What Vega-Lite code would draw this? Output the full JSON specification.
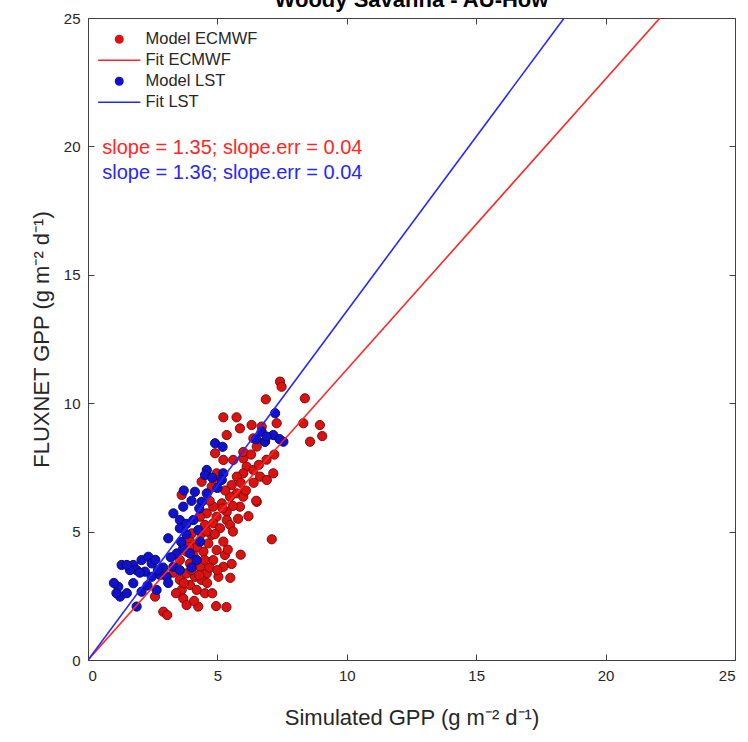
{
  "$schema": "https://vega.github.io/schema/vega-lite/v6.json",
  "autosize": "none",
  "width": 647,
  "height": 642,
  "padding": {"left": 88, "top": 18, "right": 13, "bottom": 82},
  "background": "white",
  "config": {
    "view": {"stroke": "#404040", "strokeWidth": 1},
    "font": "Liberation Sans",
    "axis": {"grid": false, "domainColor": "#404040", "tickColor": "#404040", "labelColor": "#262626", "titleColor": "#262626", "labelFont": "Liberation Sans", "titleFont": "Liberation Sans", "labelFontSize": 15, "titleFontSize": 22, "titleFontWeight": "normal", "tickSize": -6, "labelPadding": 14}
  },
  "resolve": {"axis": {"x": "independent", "y": "independent"}},
  "datasets": {
    "pts": [
      {"series": "Model ECMWF", "x": 7.42, "y": 10.84}, {"series": "Model ECMWF", "x": 7.48, "y": 10.64},
      {"series": "Model ECMWF", "x": 6.87, "y": 10.15}, {"series": "Model ECMWF", "x": 8.38, "y": 10.19},
      {"series": "Model ECMWF", "x": 5.23, "y": 9.45}, {"series": "Model ECMWF", "x": 5.74, "y": 9.45},
      {"series": "Model ECMWF", "x": 5.87, "y": 9.02}, {"series": "Model ECMWF", "x": 6.32, "y": 9.15},
      {"series": "Model ECMWF", "x": 6.71, "y": 9.09}, {"series": "Model ECMWF", "x": 7.29, "y": 9.22},
      {"series": "Model ECMWF", "x": 8.32, "y": 9.22}, {"series": "Model ECMWF", "x": 8.96, "y": 9.15},
      {"series": "Model ECMWF", "x": 9.05, "y": 8.72}, {"series": "Model ECMWF", "x": 8.58, "y": 8.5},
      {"series": "Model ECMWF", "x": 5.36, "y": 8.76}, {"series": "Model ECMWF", "x": 6.39, "y": 8.63},
      {"series": "Model ECMWF", "x": 6.52, "y": 8.31}, {"series": "Model ECMWF", "x": 6.84, "y": 8.5},
      {"series": "Model ECMWF", "x": 4.91, "y": 8.05}, {"series": "Model ECMWF", "x": 5.23, "y": 7.79},
      {"series": "Model ECMWF", "x": 5.61, "y": 7.79}, {"series": "Model ECMWF", "x": 6.0, "y": 7.85},
      {"series": "Model ECMWF", "x": 6.13, "y": 7.53}, {"series": "Model ECMWF", "x": 6.39, "y": 7.4},
      {"series": "Model ECMWF", "x": 6.65, "y": 7.14}, {"series": "Model ECMWF", "x": 7.16, "y": 7.27},
      {"series": "Model ECMWF", "x": 6.91, "y": 7.01}, {"series": "Model ECMWF", "x": 6.0, "y": 7.27},
      {"series": "Model ECMWF", "x": 5.75, "y": 7.14}, {"series": "Model ECMWF", "x": 4.97, "y": 7.27},
      {"series": "Model ECMWF", "x": 4.78, "y": 6.75}, {"series": "Model ECMWF", "x": 4.39, "y": 6.94},
      {"series": "Model ECMWF", "x": 5.55, "y": 6.81}, {"series": "Model ECMWF", "x": 5.75, "y": 6.49},
      {"series": "Model ECMWF", "x": 5.49, "y": 6.36}, {"series": "Model ECMWF", "x": 6.0, "y": 6.36},
      {"series": "Model ECMWF", "x": 5.87, "y": 5.97}, {"series": "Model ECMWF", "x": 6.52, "y": 6.16},
      {"series": "Model ECMWF", "x": 5.17, "y": 6.1}, {"series": "Model ECMWF", "x": 4.84, "y": 5.97},
      {"series": "Model ECMWF", "x": 5.36, "y": 5.77}, {"series": "Model ECMWF", "x": 3.62, "y": 6.43},
      {"series": "Model ECMWF", "x": 4.59, "y": 5.71}, {"series": "Model ECMWF", "x": 4.33, "y": 5.58},
      {"series": "Model ECMWF", "x": 4.97, "y": 5.58}, {"series": "Model ECMWF", "x": 5.36, "y": 5.45},
      {"series": "Model ECMWF", "x": 4.84, "y": 5.32}, {"series": "Model ECMWF", "x": 4.52, "y": 5.26},
      {"series": "Model ECMWF", "x": 5.1, "y": 5.13}, {"series": "Model ECMWF", "x": 5.49, "y": 5.26},
      {"series": "Model ECMWF", "x": 4.01, "y": 4.93}, {"series": "Model ECMWF", "x": 4.39, "y": 4.93},
      {"series": "Model ECMWF", "x": 4.78, "y": 4.87}, {"series": "Model ECMWF", "x": 7.1, "y": 4.7},
      {"series": "Model ECMWF", "x": 3.94, "y": 4.61}, {"series": "Model ECMWF", "x": 4.2, "y": 4.48},
      {"series": "Model ECMWF", "x": 4.65, "y": 4.54}, {"series": "Model ECMWF", "x": 5.23, "y": 4.61},
      {"series": "Model ECMWF", "x": 3.81, "y": 4.22}, {"series": "Model ECMWF", "x": 4.07, "y": 4.09},
      {"series": "Model ECMWF", "x": 4.46, "y": 4.22}, {"series": "Model ECMWF", "x": 4.97, "y": 4.28},
      {"series": "Model ECMWF", "x": 5.29, "y": 4.09}, {"series": "Model ECMWF", "x": 4.84, "y": 3.89},
      {"series": "Model ECMWF", "x": 5.55, "y": 3.74}, {"series": "Model ECMWF", "x": 5.23, "y": 3.63},
      {"series": "Model ECMWF", "x": 3.55, "y": 3.89}, {"series": "Model ECMWF", "x": 3.94, "y": 3.76},
      {"series": "Model ECMWF", "x": 4.33, "y": 3.63}, {"series": "Model ECMWF", "x": 4.59, "y": 3.37},
      {"series": "Model ECMWF", "x": 3.81, "y": 3.37}, {"series": "Model ECMWF", "x": 4.13, "y": 3.24},
      {"series": "Model ECMWF", "x": 3.55, "y": 3.12}, {"series": "Model ECMWF", "x": 4.39, "y": 3.12},
      {"series": "Model ECMWF", "x": 3.94, "y": 2.92}, {"series": "Model ECMWF", "x": 3.62, "y": 2.73},
      {"series": "Model ECMWF", "x": 4.2, "y": 2.73}, {"series": "Model ECMWF", "x": 3.68, "y": 2.4},
      {"series": "Model ECMWF", "x": 4.52, "y": 2.6}, {"series": "Model ECMWF", "x": 4.26, "y": 2.08},
      {"series": "Model ECMWF", "x": 3.81, "y": 2.14}, {"series": "Model ECMWF", "x": 2.91, "y": 1.88},
      {"series": "Model ECMWF", "x": 3.06, "y": 1.75}, {"series": "Model ECMWF", "x": 2.59, "y": 2.47},
      {"series": "Model ECMWF", "x": 5.04, "y": 3.24}, {"series": "Model ECMWF", "x": 4.6, "y": 3.0},
      {"series": "Model ECMWF", "x": 4.7, "y": 3.6}, {"series": "Model ECMWF", "x": 5.0, "y": 3.5},
      {"series": "Model ECMWF", "x": 4.0, "y": 3.5}, {"series": "Model ECMWF", "x": 4.3, "y": 3.3},
      {"series": "Model ECMWF", "x": 5.4, "y": 4.3}, {"series": "Model ECMWF", "x": 5.6, "y": 5.0},
      {"series": "Model ECMWF", "x": 5.8, "y": 5.5}, {"series": "Model ECMWF", "x": 6.1, "y": 6.6},
      {"series": "Model ECMWF", "x": 6.4, "y": 6.9}, {"series": "Model ECMWF", "x": 6.6, "y": 7.6},
      {"series": "Model ECMWF", "x": 6.0, "y": 8.1}, {"series": "Model ECMWF", "x": 6.3, "y": 8.0},
      {"series": "Model ECMWF", "x": 5.9, "y": 6.9}, {"series": "Model ECMWF", "x": 5.3, "y": 6.6},
      {"series": "Model ECMWF", "x": 4.7, "y": 6.2}, {"series": "Model ECMWF", "x": 4.6, "y": 5.0},
      {"series": "Model ECMWF", "x": 4.2, "y": 4.4}, {"series": "Model ECMWF", "x": 3.9, "y": 4.4},
      {"series": "Model ECMWF", "x": 4.9, "y": 4.9}, {"series": "Model ECMWF", "x": 5.2, "y": 5.9},
      {"series": "Model ECMWF", "x": 5.6, "y": 6.0}, {"series": "Model ECMWF", "x": 6.9, "y": 7.8},
      {"series": "Model ECMWF", "x": 7.2, "y": 8.0}, {"series": "Model ECMWF", "x": 5.0, "y": 7.0},
      {"series": "Model ECMWF", "x": 4.5, "y": 3.9}, {"series": "Model ECMWF", "x": 3.7, "y": 3.0},
      {"series": "Model ECMWF", "x": 3.4, "y": 2.6}, {"series": "Model ECMWF", "x": 4.1, "y": 2.3},
      {"series": "Model ECMWF", "x": 4.8, "y": 2.6}, {"series": "Model ECMWF", "x": 5.5, "y": 3.2},
      {"series": "Model ECMWF", "x": 5.9, "y": 4.1}, {"series": "Model ECMWF", "x": 3.3, "y": 3.4},
      {"series": "Model ECMWF", "x": 4.95, "y": 2.1}, {"series": "Model ECMWF", "x": 5.35, "y": 2.06},
      {"series": "Model ECMWF", "x": 6.2, "y": 5.6}, {"series": "Model ECMWF", "x": 6.5, "y": 6.2},
      {"series": "Model LST", "x": 7.23, "y": 9.61}, {"series": "Model LST", "x": 6.71, "y": 8.89},
      {"series": "Model LST", "x": 7.16, "y": 8.76}, {"series": "Model LST", "x": 7.55, "y": 8.5},
      {"series": "Model LST", "x": 6.84, "y": 8.5}, {"series": "Model LST", "x": 4.91, "y": 8.44},
      {"series": "Model LST", "x": 4.59, "y": 7.4}, {"series": "Model LST", "x": 4.52, "y": 7.2},
      {"series": "Model LST", "x": 5.23, "y": 7.27}, {"series": "Model LST", "x": 5.17, "y": 7.01},
      {"series": "Model LST", "x": 4.13, "y": 6.55}, {"series": "Model LST", "x": 4.59, "y": 6.49},
      {"series": "Model LST", "x": 4.39, "y": 6.16}, {"series": "Model LST", "x": 3.68, "y": 5.97},
      {"series": "Model LST", "x": 3.3, "y": 5.71}, {"series": "Model LST", "x": 3.55, "y": 5.45},
      {"series": "Model LST", "x": 3.55, "y": 5.13}, {"series": "Model LST", "x": 4.07, "y": 5.45},
      {"series": "Model LST", "x": 4.26, "y": 5.06}, {"series": "Model LST", "x": 3.1, "y": 4.74},
      {"series": "Model LST", "x": 4.33, "y": 4.61}, {"series": "Model LST", "x": 3.68, "y": 4.35},
      {"series": "Model LST", "x": 3.94, "y": 4.15}, {"series": "Model LST", "x": 3.43, "y": 4.15},
      {"series": "Model LST", "x": 4.2, "y": 3.89}, {"series": "Model LST", "x": 1.3, "y": 3.7},
      {"series": "Model LST", "x": 1.75, "y": 3.7}, {"series": "Model LST", "x": 2.07, "y": 3.89},
      {"series": "Model LST", "x": 2.33, "y": 4.02}, {"series": "Model LST", "x": 2.46, "y": 3.76},
      {"series": "Model LST", "x": 1.88, "y": 3.5}, {"series": "Model LST", "x": 2.2, "y": 3.44},
      {"series": "Model LST", "x": 1.62, "y": 3.5}, {"series": "Model LST", "x": 2.46, "y": 3.24},
      {"series": "Model LST", "x": 2.78, "y": 3.31}, {"series": "Model LST", "x": 3.04, "y": 3.24},
      {"series": "Model LST", "x": 3.3, "y": 3.63}, {"series": "Model LST", "x": 3.55, "y": 3.5},
      {"series": "Model LST", "x": 1.17, "y": 2.85}, {"series": "Model LST", "x": 1.75, "y": 2.99},
      {"series": "Model LST", "x": 1.24, "y": 2.47}, {"series": "Model LST", "x": 2.07, "y": 2.66},
      {"series": "Model LST", "x": 2.65, "y": 2.73}, {"series": "Model LST", "x": 1.88, "y": 2.08},
      {"series": "Model LST", "x": 3.8, "y": 5.3}, {"series": "Model LST", "x": 4.0, "y": 6.2},
      {"series": "Model LST", "x": 3.7, "y": 6.6}, {"series": "Model LST", "x": 4.8, "y": 7.1},
      {"series": "Model LST", "x": 5.0, "y": 6.7}, {"series": "Model LST", "x": 3.2, "y": 4.0},
      {"series": "Model LST", "x": 2.9, "y": 3.6}, {"series": "Model LST", "x": 3.6, "y": 4.6},
      {"series": "Model LST", "x": 4.0, "y": 3.6}, {"series": "Model LST", "x": 1.0, "y": 3.0},
      {"series": "Model LST", "x": 1.1, "y": 2.6}, {"series": "Model LST", "x": 1.5, "y": 3.7},
      {"series": "Model LST", "x": 2.0, "y": 3.4}, {"series": "Model LST", "x": 2.6, "y": 3.9},
      {"series": "Model LST", "x": 2.3, "y": 2.9}, {"series": "Model LST", "x": 3.1, "y": 3.0},
      {"series": "Model LST", "x": 3.8, "y": 4.9}, {"series": "Model LST", "x": 4.3, "y": 5.9},
      {"series": "Model LST", "x": 2.7, "y": 3.5}, {"series": "Model LST", "x": 1.5, "y": 2.6},
      {"series": "Model LST", "x": 7.4, "y": 8.6}, {"series": "Model LST", "x": 6.9, "y": 8.7},
      {"series": "Model LST", "x": 6.5, "y": 8.6}, {"series": "Model LST", "x": 5.2, "y": 8.3}
    ],
    "fits": [
      {"series": "Fit ECMWF", "x": 0, "y": 0}, {"series": "Fit ECMWF", "x": 22.1, "y": 25},
      {"series": "Fit LST", "x": 0, "y": 0}, {"series": "Fit LST", "x": 18.4, "y": 25}
    ],
    "notes": [
      {"series": "Fit ECMWF", "label": "slope = 1.35; slope.err = 0.04", "x": 0.55, "y": 19.95},
      {"series": "Fit LST", "label": "slope = 1.36; slope.err = 0.04", "x": 0.55, "y": 18.98}
    ]
  },
  "layer": [
    {
      "data": {"name": "pts"},
      "mark": {"type": "point", "filled": true, "opacity": 1, "strokeWidth": 1, "size": 85},
      "encoding": {
        "x": {"field": "x", "type": "quantitative", "scale": {"domain": [0, 25], "nice": false}, "axis": {"values": [0, 5, 10, 15, 20, 25], "title": "Simulated GPP (g m⁻² d⁻¹)", "titlePadding": 24}},
        "y": {"field": "y", "type": "quantitative", "scale": {"domain": [0, 25], "nice": false}, "axis": {"values": [0, 5, 10, 15, 20, 25], "title": "FLUXNET GPP (g m⁻² d⁻¹)", "titlePadding": 10}},
        "color": {
          "field": "series", "type": "nominal",
          "scale": {"domain": ["Model ECMWF", "Fit ECMWF", "Model LST", "Fit LST"], "range": ["#dc1212", "#ff2626", "#1212cc", "#2626ff"]},
          "legend": {
            "title": null, "orient": "none", "legendX": 23, "legendY": 13, "padding": 0,
            "labelFontSize": 16.5, "labelColor": "#262626", "labelFont": "Liberation Sans",
            "rowPadding": 4, "symbolOffset": 0, "labelOffset": 18, "symbolStrokeWidth": 1.6, "symbolSize": 55
          }
        },
        "stroke": {
          "field": "series", "type": "nominal",
          "scale": {"domain": ["Model ECMWF", "Fit ECMWF", "Model LST", "Fit LST"], "range": ["#7a0c0c", "#ff2626", "#0a0a70", "#2626ff"]},
          "legend": {"title": null, "orient": "none", "legendX": 23, "legendY": 13}
        },
        "shape": {
          "field": "series", "type": "nominal",
          "scale": {"domain": ["Model ECMWF", "Fit ECMWF", "Model LST", "Fit LST"], "range": ["circle", "M-5.7,0L5.7,0", "circle", "M-5.7,0L5.7,0"]},
          "legend": {"title": null, "orient": "none", "legendX": 23, "legendY": 13}
        }
      }
    },
    {
      "data": {"name": "fits"},
      "mark": {"type": "line", "strokeWidth": 1.6, "clip": true},
      "encoding": {
        "x": {"field": "x", "type": "quantitative", "axis": null},
        "y": {"field": "y", "type": "quantitative", "axis": null},
        "color": {"field": "series", "type": "nominal"},
        "detail": {"field": "series"}
      }
    },
    {
      "data": {"name": "notes"},
      "mark": {"type": "text", "align": "left", "baseline": "middle", "fontSize": 20, "font": "Liberation Sans"},
      "encoding": {
        "x": {"field": "x", "type": "quantitative", "axis": {"orient": "top", "values": [0, 5, 10, 15, 20, 25], "labels": false, "domain": false, "tickSize": -6, "title": "Woody Savanna - AU-How", "titleFontWeight": "bold", "titleFontSize": 22, "titleColor": "#000000", "titleBaseline": "alphabetic", "titleY": -12, "titleX": 323, "titleAnchor": "middle"}},
        "y": {"field": "y", "type": "quantitative", "axis": {"orient": "right", "values": [0, 5, 10, 15, 20, 25], "labels": false, "title": null, "domain": false, "tickSize": -6}},
        "text": {"field": "label"},
        "color": {"field": "series", "type": "nominal", "legend": null}
      }
    }
  ]
}
